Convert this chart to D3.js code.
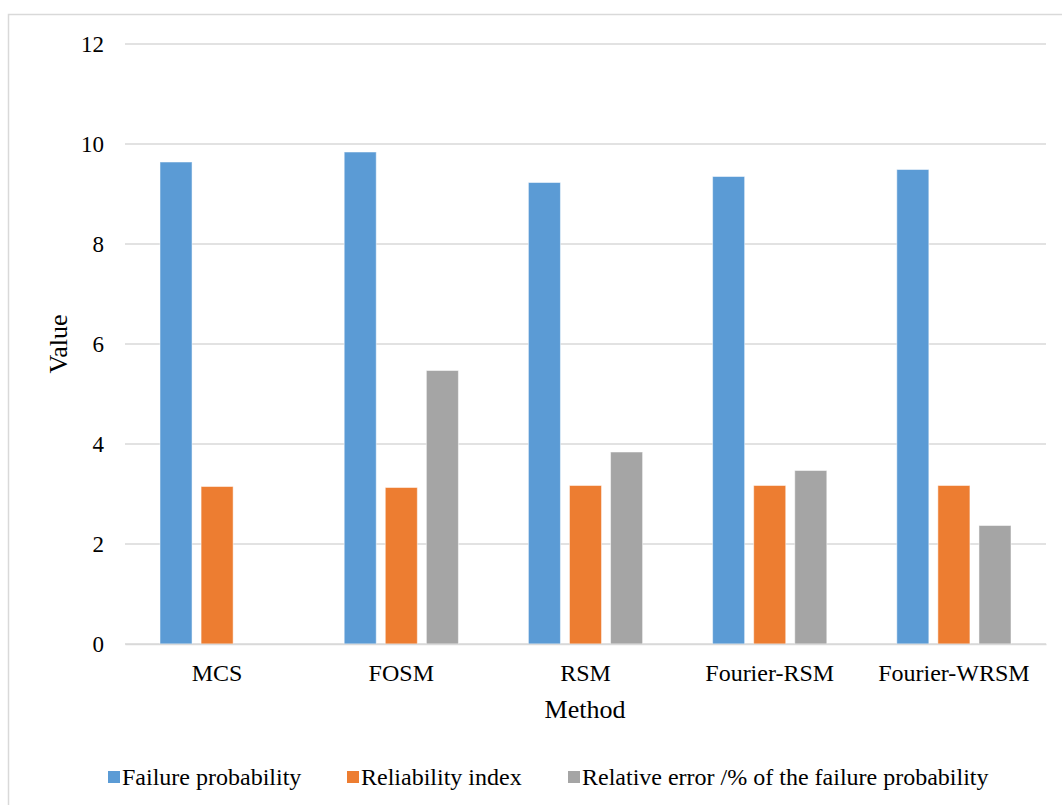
<!DOCTYPE html>
<html>
<head>
<meta charset="utf-8">
<script src="https://cdn.jsdelivr.net/npm/d3@7"></script>
<style>
  html, body { margin: 0; padding: 0; background: #fff; }
  svg { display: block; }
  svg text { font-family: "Liberation Serif", "Times New Roman", serif !important; }
</style>
</head>
<body>
<svg id="chart" width="1062" height="805"></svg>
<script>
const categories = ["MCS", "FOSM", "RSM", "Fourier-RSM", "Fourier-WRSM"];
const seriesNames = ["Failure probability", "Reliability index", "Relative error /% of the failure probability"];
const failureProbability = [9.64, 9.84, 9.23, 9.35, 9.49];
const reliabilityIndex = [3.15, 3.13, 3.17, 3.17, 3.17];
const relativeError = [0, 5.47, 3.84, 3.47, 2.37];
const yTicks = [0, 2, 4, 6, 8, 10, 12];
const colors = ["#5B9BD5", "#ED7D31", "#A5A5A5"];

const seriesValues = [failureProbability, reliabilityIndex, relativeError];
const svg = d3.select("#chart");

// outer chart border
svg.append("rect")
  .attr("x", 8.5).attr("y", 14.5)
  .attr("width", 1200).attr("height", 900)
  .attr("fill", "none").attr("stroke", "#D9D9D9").attr("stroke-width", 1.5);

const plot = { left: 125, right: 1046, top: 44, bottom: 644 };

const y = d3.scaleLinear().domain([0, 12]).range([plot.bottom, plot.top]);
const x0 = d3.scaleBand().domain(categories).range([plot.left, plot.right])
  .paddingInner(0.38).paddingOuter(0.19);
const x1 = d3.scaleBand().domain(d3.range(seriesNames.length)).range([0, x0.bandwidth()])
  .paddingInner(0.22).paddingOuter(0);

// gridlines
svg.append("g").selectAll("line").data(yTicks).join("line")
  .attr("x1", plot.left).attr("x2", plot.right)
  .attr("y1", d => y(d)).attr("y2", d => y(d))
  .attr("stroke", "#D9D9D9").attr("stroke-width", 1.5);

// y axis labels
const yAxis = d3.axisLeft(y).tickValues(yTicks).tickSize(0).tickPadding(21);
const gy = svg.append("g").attr("transform", `translate(${plot.left},0)`).call(yAxis);
gy.select(".domain").remove();
gy.selectAll("text").attr("font-size", 23).attr("fill", "#000");

// bars
const groups = svg.append("g").selectAll("g").data(categories).join("g")
  .attr("transform", d => `translate(${x0(d)},0)`);
groups.selectAll("rect")
  .data((c, i) => seriesValues.map((vals, s) => ({ s, v: vals[i] })))
  .join("rect")
  .attr("x", d => x1(d.s))
  .attr("width", x1.bandwidth())
  .attr("y", d => y(d.v))
  .attr("height", d => y(0) - y(d.v))
  .attr("fill", d => colors[d.s])
  .attr("stroke", d => d.v > 0 ? "#ffffff" : "none")
  .attr("stroke-opacity", 0.5)
  .attr("stroke-width", 1);

// x axis
const xAxis = d3.axisBottom(x0).tickSize(0).tickPadding(20);
const gx = svg.append("g").attr("transform", `translate(0,${plot.bottom})`).call(xAxis);
gx.select(".domain").attr("stroke", "#D9D9D9").attr("stroke-width", 1.5);
gx.selectAll("text").attr("font-size", 24).attr("fill", "#000");

// axis titles
svg.append("text").attr("x", (plot.left + plot.right) / 2 - 0.5).attr("y", 718)
  .attr("text-anchor", "middle").attr("font-size", 26).attr("fill", "#000").text("Method");
svg.append("text").attr("transform", "translate(67,344) rotate(-90)")
  .attr("text-anchor", "middle").attr("font-size", 26).attr("fill", "#000").text("Value");

// legend
const legendX = [108, 347, 568];
const legend = svg.append("g").selectAll("g").data(seriesNames).join("g")
  .attr("transform", (d, i) => `translate(${legendX[i]},777)`);
legend.append("rect").attr("x", 0).attr("y", -6).attr("width", 12).attr("height", 12)
  .attr("fill", (d, i) => colors[i]);
legend.append("text").attr("x", 14).attr("y", 8).attr("font-size", 24).attr("fill", "#000")
  .text(d => d);
</script>
</body>
</html>
